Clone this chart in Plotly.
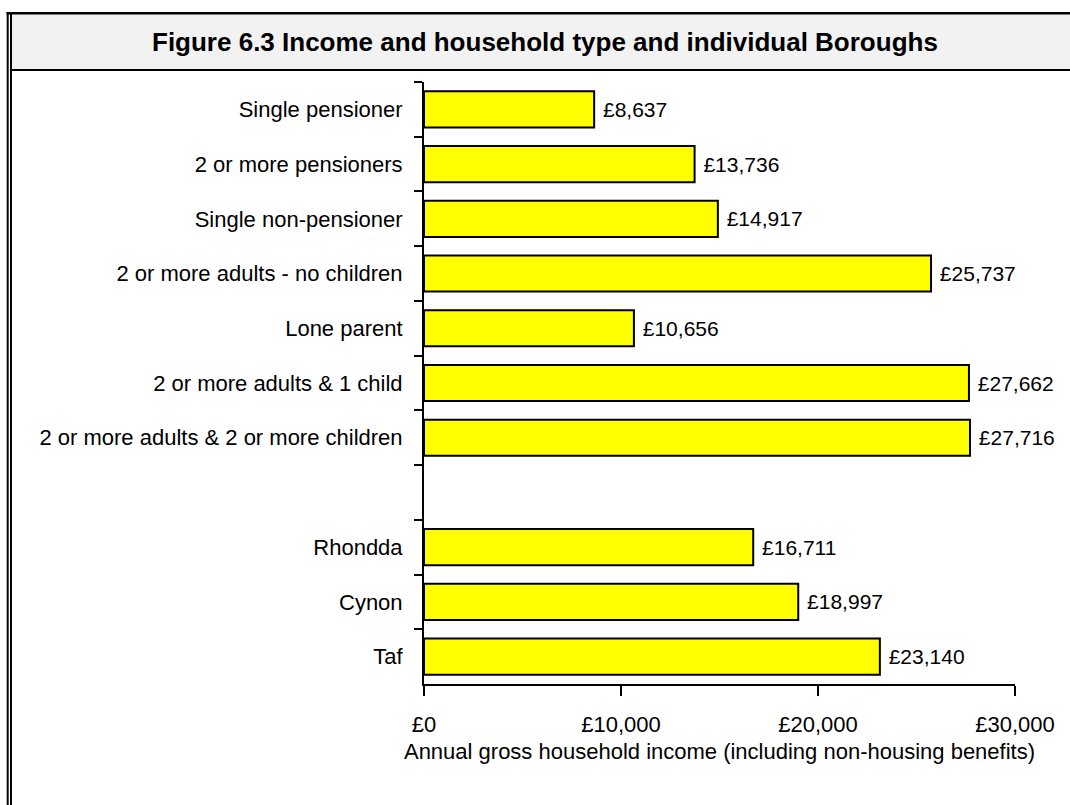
import plotly.graph_objects as go

# Household types, a blank spacer row, then the three boroughs
categories = [
    "Single pensioner",
    "2 or more pensioners",
    "Single non-pensioner",
    "2 or more adults - no children",
    "Lone parent",
    "2 or more adults & 1 child",
    "2 or more adults & 2 or more children",
    " ",
    "Rhondda",
    "Cynon",
    "Taf",
]
income = [8637, 13736, 14917, 25737, 10656, 27662, 27716, None, 16711, 18997, 23140]

x_ticks = [0, 10000, 20000, 30000]
x_tick_labels = ["£0", "£10,000", "£20,000", "£30,000"]

FONT = "Liberation Sans, Arial, sans-serif"
W, H = 1070, 805
ML, MR, MT, MB = 424, 55, 82, 121

fig = go.Figure(
    go.Bar(
        y=categories,
        x=income,
        orientation="h",
        marker=dict(color="#FFFF00", line=dict(color="black", width=2)),
        texttemplate=" £%{x:,}",
        textposition="outside",
        textfont=dict(family=FONT, size=21, color="black"),
        cliponaxis=False,
        hoverinfo="skip",
    )
)

fig.update_layout(
    width=W,
    height=H,
    paper_bgcolor="white",
    plot_bgcolor="white",
    margin=dict(l=ML, r=MR, t=MT, b=MB),
    bargap=0.34,
    showlegend=False,
    font=dict(family=FONT, size=22, color="black"),
)

fig.update_yaxes(
    type="category",
    categoryorder="array",
    categoryarray=categories,
    autorange="reversed",
    tickson="boundaries",
    ticks="outside",
    ticklen=8,
    tickwidth=2,
    tickcolor="black",
    showline=True,
    linecolor="black",
    linewidth=2,
    showgrid=False,
    tickfont=dict(family=FONT, size=22),
    ticklabelstandoff=15,
)

fig.update_xaxes(
    range=[0, 30000],
    tickvals=x_ticks,
    ticktext=x_tick_labels,
    ticks="outside",
    ticklen=10,
    tickwidth=2,
    tickcolor="black",
    showline=True,
    linecolor="black",
    linewidth=2,
    showgrid=False,
    zeroline=False,
    tickfont=dict(family=FONT, size=22),
    ticklabelstandoff=10,
    title=dict(
        text="Annual gross household income (including non-housing benefits)",
        font=dict(family=FONT, size=22),
        standoff=7,
    ),
)


def px(xp):
    return (xp - ML) / (W - ML - MR)


def py(yp):
    return (H - MB - yp) / (H - MT - MB)


# Frame: grey title band, top rule, separator and double left rule
shapes = [
    dict(type="rect", xref="paper", yref="paper",
         x0=px(11), x1=px(W), y0=py(70), y1=py(14),
         fillcolor="#F2F2F2", line=dict(width=0), layer="below"),
    dict(type="line", xref="paper", yref="paper",
         x0=px(6.5), x1=px(W), y0=py(13.2), y1=py(13.2),
         line=dict(color="black", width=2.5)),
    dict(type="line", xref="paper", yref="paper",
         x0=px(11), x1=px(W), y0=py(70), y1=py(70),
         line=dict(color="black", width=2)),
    dict(type="line", xref="paper", yref="paper",
         x0=px(7.7), x1=px(7.7), y0=py(12), y1=py(H + 1),
         line=dict(color="black", width=2)),
    dict(type="line", xref="paper", yref="paper",
         x0=px(11), x1=px(11), y0=py(12), y1=py(H + 1),
         line=dict(color="black", width=2)),
]
fig.update_layout(shapes=shapes)

fig.add_annotation(
    text="<b>Figure 6.3 Income and household type and individual Boroughs</b>",
    xref="paper", yref="paper",
    x=px(545), y=py(42),
    xanchor="center", yanchor="middle",
    showarrow=False,
    font=dict(family=FONT, size=26, color="black"),
)

fig.write_html("out.html")
